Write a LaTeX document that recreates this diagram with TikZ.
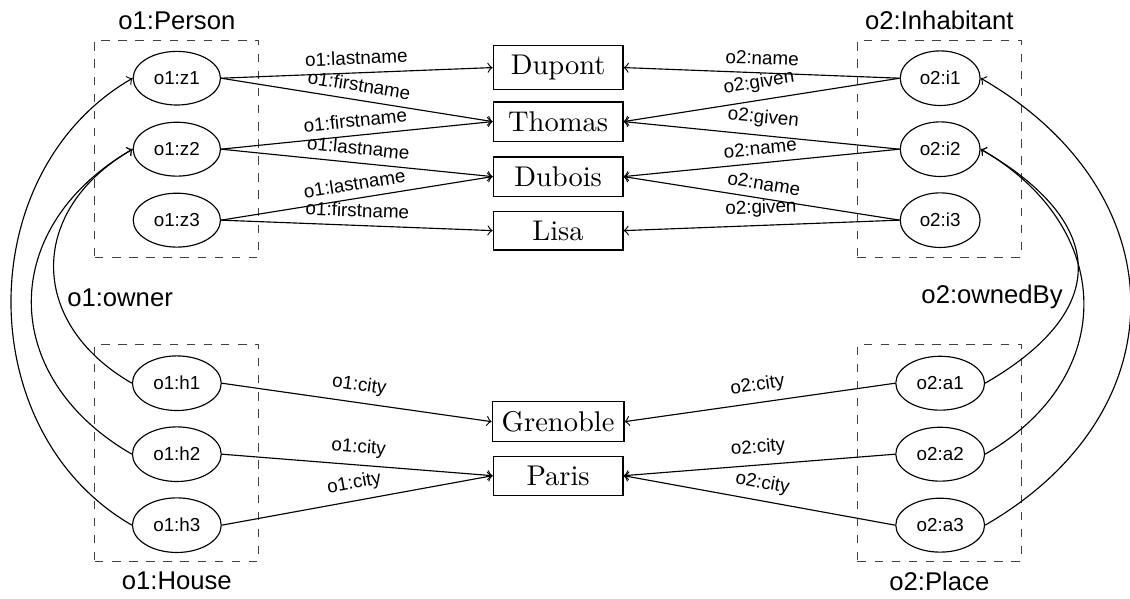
\documentclass[tikz,border=0pt]{standalone}
\usepackage{fontspec}
\setsansfont{Liberation Sans}
\usetikzlibrary{shapes.geometric}
\newcommand\lblfont[0]{\sffamily\fontsize{6.6}{8}\selectfont}

\tikzset{
  res/.style={ellipse,draw,font=\lblfont,inner xsep=2.75pt,inner ysep=4.35pt},
  lit/.style={draw,minimum width=1.6cm},
  prop/.style={font=\lblfont,above,sloped,inner sep=2.7pt},
  classbox/.style={draw=black!75,dashed,minimum width=2.02cm,minimum height=2.68cm},
  classname/.style={font=\sffamily\small},
  lbend/.style={->,out=150,in=210},
  rbend/.style={->,out=30,in=-30}
}

\begin{document}
\begin{tikzpicture}
\useasboundingbox (0,0) rectangle (13.93,7.374);

\node[classbox] (person) at (2.18,5.54) {};
\node[classbox] (house) at (2.18,1.79) {};
\node[classbox] (inhab) at (11.58,5.54) {};
\node[classbox] (place) at (11.58,1.79) {};
\node[classname,above] (personname) at (person.north) {o1:Person};
\node[classname,below] (housename) at (house.south) {o1:House};
\node[classname,above] (inhabname) at (inhab.north) {o2:Inhabitant};
\node[classname,below] (placename) at (place.south) {o2:Place};

\node[res] (z1) at (2.18,6.41) {o1:z1};
\node[res] (z2) at (2.18,5.535) {o1:z2};
\node[res] (z3) at (2.18,4.66) {o1:z3};
\node[res] (h1) at (2.18,2.65) {o1:h1};
\node[res] (h2) at (2.18,1.775) {o1:h2};
\node[res] (h3) at (2.18,0.90) {o1:h3};

\node[res] (i1) at (11.59,6.41) {o2:i1};
\node[res] (i2) at (11.59,5.535) {o2:i2};
\node[res] (i3) at (11.59,4.66) {o2:i3};
\node[res] (a1) at (11.59,2.65) {o2:a1};
\node[res] (a2) at (11.59,1.775) {o2:a2};
\node[res] (a3) at (11.59,0.90) {o2:a3};

\node[lit] (dupont) at (6.88,6.541) {Dupont};
\node[lit] (thomas) at (6.88,5.875) {Thomas};
\node[lit] (dubois) at (6.88,5.197) {Dubois};
\node[lit] (lisa) at (6.88,4.531) {Lisa};
\node[lit] (grenoble) at (6.88,2.176) {Grenoble};
\node[lit] (paris) at (6.88,1.510) {Paris};

\draw[->] (z1.east) -- node[prop] {o1:lastname} (dupont.west);
\draw[->] (z1.east) -- node[prop] {o1:firstname} (thomas.west);
\draw[->] (z2.east) -- node[prop] {o1:firstname} (thomas.west);
\draw[->] (z2.east) -- node[prop] {o1:lastname} (dubois.west);
\draw[->] (z3.east) -- node[prop] {o1:lastname} (dubois.west);
\draw[->] (z3.east) -- node[prop] {o1:firstname} (lisa.west);

\draw[->] (i1.west) -- node[prop] {o2:name} (dupont.east);
\draw[->] (i1.west) -- node[prop] {o2:given} (thomas.east);
\draw[->] (i2.west) -- node[prop] {o2:given} (thomas.east);
\draw[->] (i2.west) -- node[prop] {o2:name} (dubois.east);
\draw[->] (i3.west) -- node[prop] {o2:name} (dubois.east);
\draw[->] (i3.west) -- node[prop] {o2:given} (lisa.east);

\draw[->] (h1.east) -- node[prop] {o1:city} (grenoble.west);
\draw[->] (h2.east) -- node[prop] {o1:city} (paris.west);
\draw[->] (h3.east) -- node[prop] {o1:city} (paris.west);
\draw[->] (a1.west) -- node[prop] {o2:city} (grenoble.east);
\draw[->] (a2.west) -- node[prop] {o2:city} (paris.east);
\draw[->] (a3.west) -- node[prop] {o2:city} (paris.east);

\draw[lbend,looseness=1.32] (h1.west) to (z2.west);
\draw[lbend,looseness=1.3] (h2.west) to (z2.west);
\draw[lbend,looseness=1.07] (h3.west) to (z1.west);
\draw[rbend,looseness=1.6] (a1.east) to (i2.east);
\draw[rbend,looseness=1.3] (a2.east) to (i2.east);
\draw[rbend,looseness=1.3] (a3.east) to (i1.east);

\node[classname] (owner) at (1.48,3.70) {o1:owner};
\node[classname] (ownedby) at (12.23,3.71) {o2:ownedBy};

\end{tikzpicture}
\end{document}
